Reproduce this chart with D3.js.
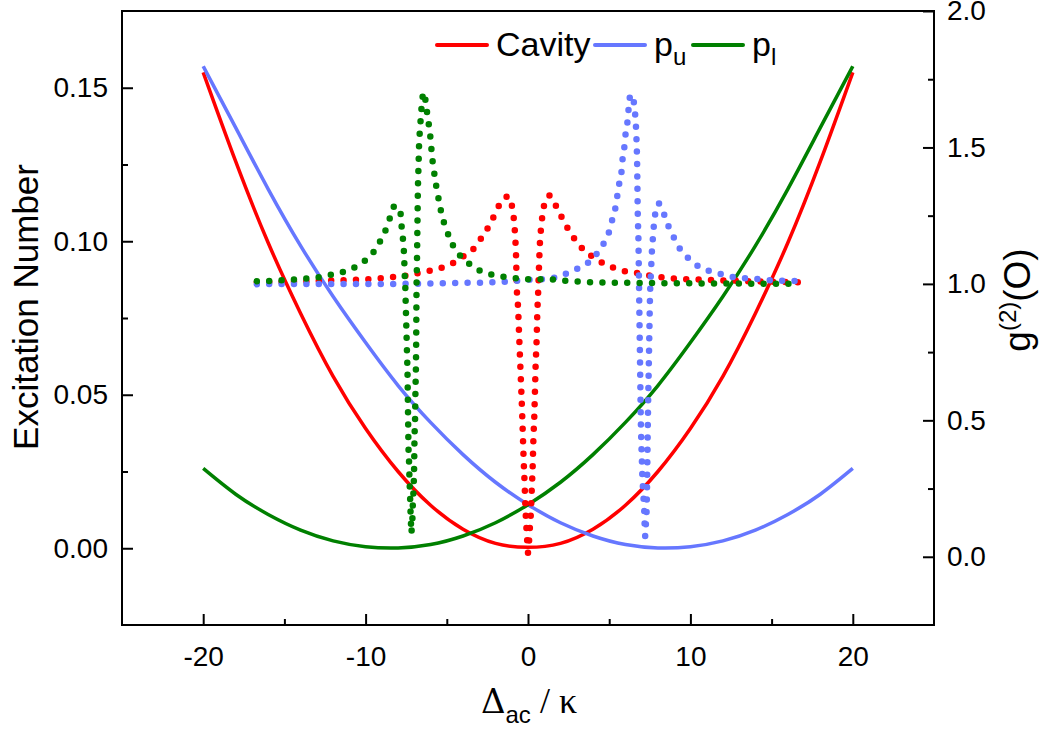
<!DOCTYPE html>
<html>
<head>
<meta charset="utf-8">
<script src="https://cdn.jsdelivr.net/npm/d3@7"></script>
<style>
  body { margin: 0; background: #fff; }
  svg { display: block; }
</style>
</head>
<body>
<svg id="chart" width="1044" height="733"></svg>
<script>
// excitation numbers (left axis) on a 2-unit grid
var detuning = [-20, -18, -16, -14, -12, -10, -8, -6, -4, -2, 0, 2, 4, 6, 8, 10, 12, 14, 16, 18, 20];
var nCavity = [0.155, 0.126, 0.0995, 0.0765, 0.056, 0.039, 0.025, 0.014, 0.0062, 0.0016, 0.0003,
               0.0016, 0.0062, 0.014, 0.025, 0.039, 0.056, 0.0765, 0.0995, 0.126, 0.155];
var nUpper = [0.157, 0.137, 0.117, 0.0985, 0.082, 0.067, 0.053, 0.041, 0.0305, 0.0215, 0.0142,
              0.0083, 0.004, 0.0012, 0.0001, 0.0005, 0.0024, 0.0059, 0.011, 0.0176, 0.026];
var nLower = [0.026, 0.0176, 0.011, 0.0059, 0.0024, 0.0005, 0.0001, 0.0012, 0.004, 0.0083, 0.0142,
              0.0215, 0.0305, 0.041, 0.053, 0.067, 0.082, 0.0985, 0.117, 0.137, 0.157];

// g2(0) curves (right axis), [detuning, g2] pairs
var g2Cavity = [
  [-16.7, 1.006], [-14.5, 1.008], [-12, 1.013], [-10.5, 1.015], [-9, 1.021], [-8.3, 1.025],
  [-7.5, 1.03], [-6.7, 1.04], [-5.9, 1.05], [-5.2, 1.062], [-4.5, 1.08], [-3.9, 1.105],
  [-3.3, 1.132], [-2.85, 1.17], [-2.44, 1.208], [-2.07, 1.251], [-1.72, 1.294], [-1.4, 1.316],
  [-1.21, 1.321], [-1.05, 1.30], [-0.96, 1.276], [-0.86, 1.23], [-0.8, 1.184], [-0.76, 1.139],
  [-0.73, 1.09], [-0.7, 1.0], [-0.61, 0.91], [-0.55, 0.818], [-0.49, 0.726], [-0.43, 0.635],
  [-0.37, 0.543], [-0.32, 0.452], [-0.27, 0.36], [-0.21, 0.27], [-0.17, 0.2], [-0.12, 0.13],
  [-0.06, 0.07], [0.0, 0.015], [0.08, 0.07], [0.12, 0.11], [0.17, 0.153], [0.23, 0.244],
  [0.29, 0.336], [0.33, 0.427], [0.39, 0.519], [0.43, 0.61], [0.47, 0.702], [0.53, 0.793],
  [0.57, 0.885], [0.63, 0.977], [0.68, 1.068], [0.74, 1.157], [0.8, 1.202], [0.88, 1.247],
  [1.0, 1.291], [1.18, 1.318], [1.35, 1.324], [1.55, 1.305], [1.76, 1.282], [2.07, 1.245],
  [2.48, 1.2], [2.89, 1.163], [3.36, 1.129], [4.01, 1.098], [4.67, 1.074], [5.41, 1.056],
  [6.17, 1.044], [6.88, 1.038], [7.7, 1.028], [8.42, 1.023], [9.18, 1.019], [9.96, 1.017],
  [10.74, 1.016], [11.49, 1.013], [13.03, 1.011], [14.67, 1.008], [16.7, 1.006]
];
var g2Upper = [
  [-16.7, 0.999], [-14, 1.0], [-11, 1.0], [-8, 1.0], [-5, 1.003], [-2, 1.006], [-1, 1.01],
  [0, 1.015], [1, 1.018], [1.8, 1.025], [2.4, 1.039], [3.13, 1.058], [3.75, 1.08], [4.3, 1.116],
  [4.73, 1.156], [5.04, 1.2], [5.22, 1.243], [5.41, 1.287], [5.53, 1.335], [5.65, 1.379],
  [5.78, 1.423], [5.84, 1.47], [5.96, 1.514], [6.02, 1.558], [6.15, 1.606], [6.21, 1.654],
  [6.33, 1.694], [6.44, 1.69], [6.52, 1.665], [6.6, 1.62], [6.68, 1.53], [6.72, 1.44],
  [6.74, 1.347], [6.76, 1.255], [6.8, 1.163], [6.82, 1.075], [6.84, 0.98], [6.86, 0.889],
  [6.88, 0.797], [6.9, 0.709], [6.92, 0.618], [6.94, 0.526], [6.97, 0.435], [7.01, 0.36],
  [7.04, 0.295], [7.08, 0.251], [7.12, 0.208], [7.16, 0.163], [7.19, 0.1], [7.22, 0.075],
  [7.26, 0.12], [7.3, 0.164], [7.33, 0.256], [7.36, 0.398], [7.39, 0.537], [7.43, 0.673],
  [7.47, 0.812], [7.51, 0.947], [7.57, 1.039], [7.64, 1.13], [7.7, 1.174], [7.76, 1.222],
  [7.85, 1.262], [8.05, 1.295], [8.38, 1.255], [8.65, 1.211], [8.97, 1.171], [9.34, 1.13],
  [9.82, 1.097], [10.51, 1.064], [11.23, 1.046], [11.97, 1.035], [12.72, 1.024], [13.48, 1.02],
  [14.26, 1.017], [15.04, 1.013], [16.7, 1.01]
];
var g2Lower = [
  [-16.7, 1.01], [-15.9, 1.011], [-15.14, 1.013], [-14.36, 1.016], [-13.6, 1.02], [-12.83, 1.025],
  [-12.07, 1.034], [-11.31, 1.045], [-10.63, 1.062], [-10.06, 1.084], [-9.51, 1.117], [-9.1, 1.157],
  [-8.75, 1.2], [-8.48, 1.245], [-8.22, 1.285], [-7.87, 1.272], [-7.81, 1.227], [-7.73, 1.182],
  [-7.66, 1.135], [-7.62, 1.09], [-7.6, 1.044], [-7.56, 0.999], [-7.54, 0.952], [-7.52, 0.907],
  [-7.5, 0.861], [-7.48, 0.815], [-7.46, 0.769], [-7.44, 0.724], [-7.42, 0.677], [-7.4, 0.586],
  [-7.38, 0.494], [-7.36, 0.403], [-7.33, 0.358], [-7.3, 0.29], [-7.26, 0.22], [-7.24, 0.177],
  [-7.21, 0.131], [-7.19, 0.086], [-7.15, 0.11], [-7.11, 0.153], [-7.09, 0.198], [-7.05, 0.244],
  [-7.01, 0.336], [-6.99, 0.427], [-6.95, 0.519], [-6.93, 0.61], [-6.9, 0.702], [-6.885, 0.793],
  [-6.875, 0.885], [-6.865, 0.977], [-6.84, 1.068], [-6.82, 1.16], [-6.8, 1.251], [-6.78, 1.343],
  [-6.74, 1.434], [-6.7, 1.523], [-6.64, 1.569], [-6.6, 1.614], [-6.53, 1.658], [-6.45, 1.702],
  [-6.35, 1.69], [-6.29, 1.657], [-6.16, 1.609], [-6.07, 1.565], [-5.98, 1.52], [-5.92, 1.473],
  [-5.82, 1.428], [-5.72, 1.383], [-5.59, 1.339], [-5.45, 1.294], [-5.29, 1.249], [-5.06, 1.205],
  [-4.79, 1.163], [-4.49, 1.127], [-3.98, 1.093], [-3.36, 1.062], [-2.6, 1.04], [-1.89, 1.03],
  [-1.1, 1.023], [-0.33, 1.018], [0.43, 1.017], [1.21, 1.017], [1.97, 1.013], [2.72, 1.01],
  [3.5, 1.007], [6, 1.004], [10, 1.002], [13, 1.001], [16.7, 1.0]
];

var xTicks = [-20, -10, 0, 10, 20];
var xMinor = [-15, -5, 5, 15];
var leftTicks = [0, 0.05, 0.10, 0.15];
var leftMinor = [0.025, 0.075, 0.125];
var rightTicks = [0, 0.5, 1.0, 1.5, 2.0];
var rightMinor = [0.25, 0.75, 1.25, 1.75];

var RED = "#ff0000", BLUE = "#6677ff", GREEN = "#008000";
var SANS = "'Liberation Sans', Arial, sans-serif";

var margin = {top: 11, left: 122},
    plotW = 812, plotH = 614;

var svg = d3.select("#chart");

var x = d3.scaleLinear().domain([-25, 25]).range([margin.left, margin.left + plotW]);
var yL = d3.scaleLinear().domain([-0.025, 0.175]).range([margin.top + plotH, margin.top]);
var yR = d3.scaleLinear().domain([-0.25, 2.0]).range([margin.top + plotH, margin.top]);

// axes: ticks point inward, the frame is drawn separately
function styleAxis(g) {
    g.select(".domain").remove();
    g.selectAll(".tick line").attr("stroke", "#000").attr("stroke-width", 2);
    g.selectAll(".tick text").attr("font-family", SANS).attr("font-size", "28px").attr("fill", "#000");
}

// plain hyphen for negatives, like the original
svg.append("g")
    .attr("transform", "translate(0," + (margin.top + plotH) + ")")
    .call(d3.axisBottom(x).tickValues(xTicks).tickFormat(function (d) { return String(d); })
        .tickSizeInner(-11).tickSizeOuter(0).tickPadding(21))
    .call(styleAxis);
svg.append("g")
    .attr("transform", "translate(0," + (margin.top + plotH) + ")")
    .call(d3.axisBottom(x).tickValues(xMinor).tickSizeInner(-6).tickSizeOuter(0).tickFormat(""))
    .call(styleAxis);

svg.append("g")
    .attr("transform", "translate(" + margin.left + ",0)")
    .call(d3.axisLeft(yL).tickValues(leftTicks).tickFormat(d3.format(".2f"))
        .tickSizeInner(-11).tickSizeOuter(0).tickPadding(14))
    .call(styleAxis);
svg.append("g")
    .attr("transform", "translate(" + margin.left + ",0)")
    .call(d3.axisLeft(yL).tickValues(leftMinor).tickFormat("").tickSizeInner(-6).tickSizeOuter(0))
    .call(styleAxis);

svg.append("g")
    .attr("transform", "translate(" + (margin.left + plotW) + ",0)")
    .call(d3.axisRight(yR).tickValues(rightTicks).tickFormat(d3.format(".1f"))
        .tickSizeInner(-11).tickSizeOuter(0).tickPadding(13))
    .call(styleAxis);
svg.append("g")
    .attr("transform", "translate(" + (margin.left + plotW) + ",0)")
    .call(d3.axisRight(yR).tickValues(rightMinor).tickFormat("").tickSizeInner(-6).tickSizeOuter(0))
    .call(styleAxis);

// solid lines: excitation numbers
var lineN = function (values) {
    return d3.line()
        .x(function (d, i) { return x(detuning[i]); })
        .y(function (d) { return yL(d); })
        .curve(d3.curveNatural)(values);
};
[[nCavity, RED], [nUpper, BLUE], [nLower, GREEN]].forEach(function (s) {
    svg.append("path")
        .attr("d", lineN(s[0]))
        .attr("fill", "none")
        .attr("stroke", s[1])
        .attr("stroke-width", 3.5);
});

// dotted lines: g2(0)
var lineG = d3.line()
    .x(function (d) { return x(d[0]); })
    .y(function (d) { return yR(d[1]); })
    .curve(d3.curveMonotoneX);
[[g2Cavity, RED], [g2Upper, BLUE], [g2Lower, GREEN]].forEach(function (s) {
    svg.append("path")
        .attr("d", lineG(s[0]))
        .attr("fill", "none")
        .attr("stroke", s[1])
        .attr("stroke-width", 6.5)
        .attr("stroke-linecap", "round")
        .attr("stroke-dasharray", "0 12.4");
});

// frame
svg.append("rect")
    .attr("x", margin.left).attr("y", margin.top)
    .attr("width", plotW).attr("height", plotH)
    .attr("fill", "none").attr("stroke", "#000").attr("stroke-width", 2);

// legend
var legend = [
    {label: "Cavity", sub: "", color: RED, x: 437},
    {label: "p", sub: "u", color: BLUE, x: 595},
    {label: "p", sub: "l", color: GREEN, x: 693}
];
legend.forEach(function (d) {
    svg.append("line")
        .attr("x1", d.x).attr("x2", d.x + 50)
        .attr("y1", 45).attr("y2", 45)
        .attr("stroke", d.color).attr("stroke-width", 4).attr("stroke-linecap", "round");
    var t = svg.append("text")
        .attr("x", d.x + 59).attr("y", 56)
        .attr("font-family", SANS).attr("font-size", "34px").attr("fill", "#000")
        .text(d.label);
    if (d.sub) {
        t.append("tspan").attr("dy", 9).attr("font-size", "24px").text(d.sub);
    }
});

// axis titles
svg.append("text")
    .attr("transform", "translate(38,307) rotate(-90)")
    .attr("text-anchor", "middle")
    .attr("font-family", SANS).attr("font-size", "35px")
    .text("Excitation Number");

var gt = svg.append("text")
    .attr("transform", "translate(1030,300) rotate(-90)")
    .attr("text-anchor", "middle")
    .attr("font-family", SANS).attr("font-size", "37px");
gt.append("tspan").text("g");
gt.append("tspan").attr("dy", -14).attr("font-size", "24px").text("(2)");
gt.append("tspan").attr("dy", 14).text("(O)");

var xt = svg.append("text")
    .attr("x", 529).attr("y", 713)
    .attr("text-anchor", "middle")
    .attr("font-family", "'DejaVu Serif', 'Liberation Serif', serif").attr("font-size", "34px");
xt.append("tspan").text("\u0394");
xt.append("tspan").attr("dy", 10).attr("font-family", SANS).attr("font-size", "24px").text("ac");
xt.append("tspan").attr("dy", -10).attr("font-family", "'Liberation Serif', serif").attr("font-size", "36px").text(" / \u03ba");
</script>
</body>
</html>
